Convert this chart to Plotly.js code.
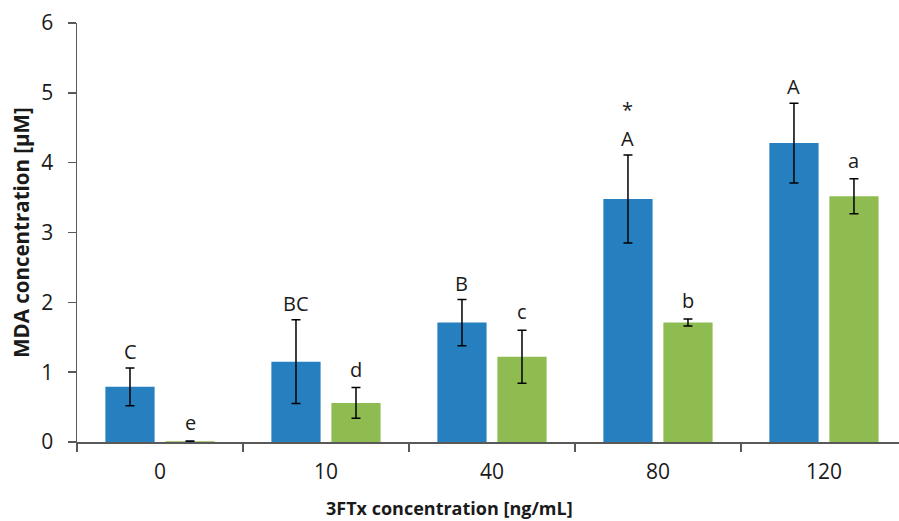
<!DOCTYPE html>
<html>
<head>
<meta charset="utf-8">
<script src="https://cdn.plot.ly/plotly-3.0.1.min.js"></script>
<style>html,body{margin:0;padding:0;background:#fff;}#chart{width:899px;height:521px;}</style>
</head>
<body>
<div id="chart"></div>
<script>
var categories = ["0", "10", "40", "80", "120"];
var blueValues = [0.79, 1.15, 1.71, 3.48, 4.28];
var blueErrors = [0.27, 0.60, 0.33, 0.63, 0.57];
var blueLetters = ["C", "BC", "B", "A", "A"];
var greenValues = [0.01, 0.56, 1.22, 1.71, 3.52];
var greenErrors = [0.005, 0.22, 0.38, 0.05, 0.25];
var greenLetters = ["e", "d", "c", "b", "a"];
var starCategory = "80";
var yTicks = [0, 1, 2, 3, 4, 5, 6];

var blueColor = "#2680c0";
var greenColor = "#8fbc50";
var FONT = "Open Sans, sans-serif";
var txtColor = "#1a1a1a";

var errStyle = {type: "data", visible: true, color: "#000", thickness: 1.5, width: 4.5};

var traceBlue = {
  type: "bar", x: categories, y: blueValues, name: "blue",
  marker: {color: blueColor},
  error_y: Object.assign({array: blueErrors}, errStyle),
  offsetgroup: "1"
};
var traceGreen = {
  type: "bar", x: categories, y: greenValues, name: "green",
  marker: {color: greenColor},
  error_y: Object.assign({array: greenErrors}, errStyle),
  offsetgroup: "2"
};

var annotations = [];
function addLetters(values, errors, letters, xshift, yshift) {
  for (var i = 0; i < categories.length; i++) {
    annotations.push({
      x: i, y: values[i] + errors[i], xref: "x", yref: "y",
      text: letters[i], showarrow: false, xshift: xshift, yshift: yshift,
      yanchor: "bottom", font: {family: FONT, size: 20, color: txtColor}
    });
  }
}
addLetters(blueValues, blueErrors, blueLetters, -30, 1);
addLetters(greenValues, greenErrors, greenLetters, 30, 3);
var si = categories.indexOf(starCategory);
annotations.push({
  x: si, y: blueValues[si] + blueErrors[si], xref: "x", yref: "y",
  text: "*", showarrow: false, xshift: -30, yshift: 30, yanchor: "bottom",
  font: {family: FONT, size: 20, color: txtColor}
});
annotations.push({
  x: 0.453, y: (441.7 - 508) / 418.4, xref: "paper", yref: "paper", text: "<b>3FTx concentration [ng/mL]</b>",
  showarrow: false, xanchor: "center", yanchor: "middle",
  font: {family: FONT, size: 18, color: txtColor}
});

var layout = {
  width: 899, height: 521,
  margin: {l: 77, r: 0, t: 23, b: 79.3, pad: 0},
  paper_bgcolor: "#fff", plot_bgcolor: "#fff",
  showlegend: false,
  barmode: "group", bargap: 0.277, bargroupgap: 0.18,
  font: {family: FONT, color: txtColor},
  xaxis: {
    type: "category", range: [-0.5, 4.452], tickson: "boundaries",
    ticks: "outside", ticklen: 8, tickwidth: 1.5, tickcolor: "#595959",
    showline: true, linecolor: "#595959", linewidth: 1.5,
    showgrid: false, zeroline: false,
    tickfont: {family: FONT, size: 21, color: txtColor},
    ticklabelstandoff: 10
  },
  yaxis: {
    range: [0, 6], tickvals: yTicks, ticktext: yTicks.map(String),
    ticks: "outside", ticklen: 8, tickwidth: 1.5, tickcolor: "#595959",
    showline: true, linecolor: "#595959", linewidth: 1.5,
    showgrid: false, zeroline: false,
    tickfont: {family: FONT, size: 21, color: txtColor},
    ticklabelstandoff: 10,
    title: {text: "<b>MDA concentration [μM]</b>", font: {family: FONT, size: 20.5, color: txtColor}, standoff: 6}
  },
  annotations: annotations
};

Plotly.newPlot("chart", [traceBlue, traceGreen], layout, {displayModeBar: false, staticPlot: true});
</script>
</body>
</html>
